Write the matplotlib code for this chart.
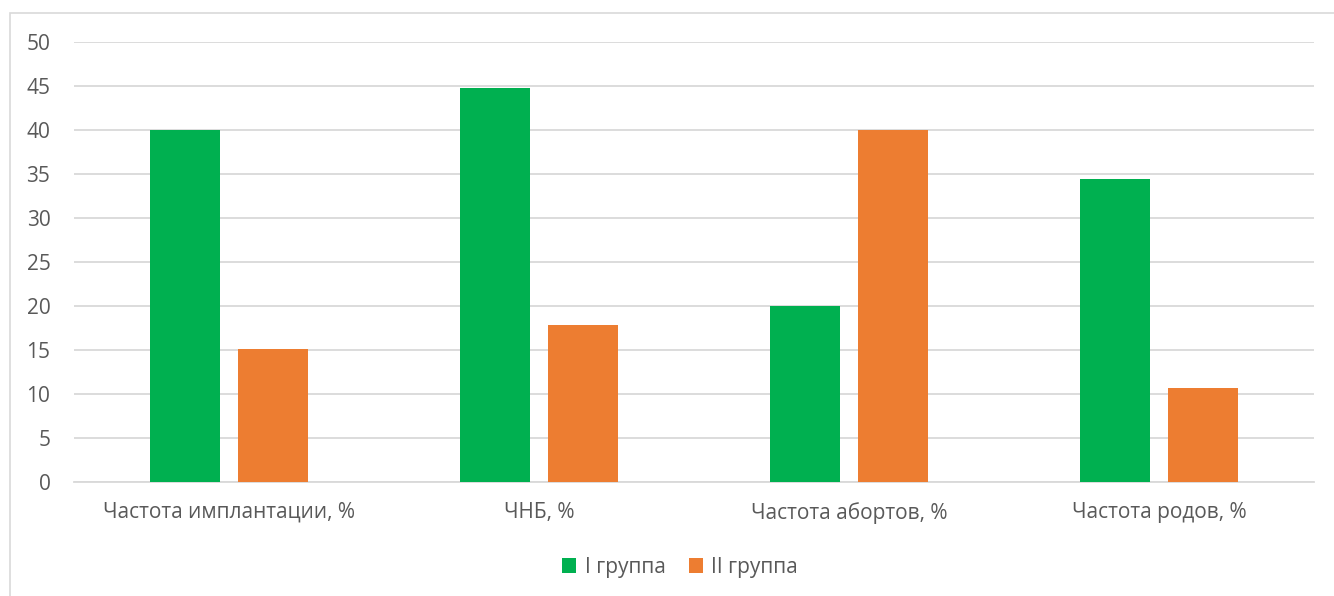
import matplotlib
matplotlib.use("Agg")
import matplotlib.pyplot as plt
from matplotlib.patches import Rectangle
import numpy as np

categories = ["Частота имплантации, %", "ЧНБ, %", "Частота абортов, %", "Частота родов, %"]
group1 = [40.0, 44.8, 20.0, 34.5]
group2 = [15.2, 17.9, 40.0, 10.7]
series_names = ["I группа", "II группа"]
yticks = [0, 5, 10, 15, 20, 25, 30, 35, 40, 45, 50]

plt.rcParams["font.family"] = ["Open Sans", "DejaVu Sans"]
text_color = "#595959"
grid_color = "#D9D9D9"
green = "#00B050"
orange = "#ED7D31"

W, H = 1334, 596
fig = plt.figure(figsize=(W / 100, H / 100), dpi=100)

# outer chart frame
fig.add_artist(Rectangle((10 / W, -0.05), 1.2, 1 - 13 / H + 0.05,
                         transform=fig.transFigure, fill=False,
                         edgecolor=grid_color, linewidth=1.2))

left, right = 74, 1314
top, bottom = 42.3, 482.3
ax = fig.add_axes([left / W, 1 - bottom / H, (right - left) / W, (bottom - top) / H])

x = np.arange(len(categories))
bw = 0.226
off = 0.142
ax.bar(x - off, group1, width=bw, color=green, label=series_names[0], zorder=3)
ax.bar(x + off, group2, width=bw, color=orange, label=series_names[1], zorder=3)

ax.set_xlim(-0.5, len(categories) - 0.5)
ax.set_ylim(0, 50)
ax.set_yticks(yticks)
ax.set_xticks(x)
ax.set_xticklabels(categories)
ax.yaxis.grid(True, color=grid_color, linewidth=1.3, zorder=0)
ax.set_axisbelow(True)
for s in ["top", "right", "left"]:
    ax.spines[s].set_visible(False)
ax.spines["bottom"].set_color(grid_color)
ax.spines["bottom"].set_linewidth(1.3)
ax.tick_params(axis="both", length=0, labelsize=15, labelcolor=text_color)
ax.tick_params(axis="y", pad=17)
ax.tick_params(axis="x", pad=14)

handles, labels = ax.get_legend_handles_labels()
fig.legend(handles, labels, loc="center", bbox_to_anchor=(680 / W, 1 - 567 / H),
           ncol=2, frameon=False, fontsize=15, labelcolor=text_color,
           handlelength=0.7, handleheight=0.7, handletextpad=0.4, columnspacing=1.1)

fig.savefig("out.png", dpi=100, facecolor="white")
